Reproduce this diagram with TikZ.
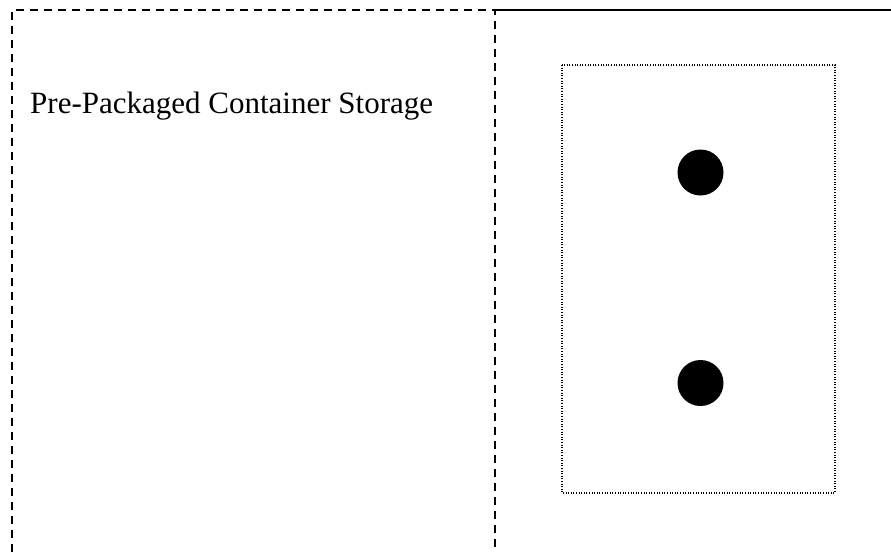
\documentclass[tikz,border=0pt]{standalone}
\usepackage{fontspec}
\setmainfont{Liberation Serif}
\begin{document}
\begin{tikzpicture}[x=1pt,y=-1pt,
  frame/.style={line width=2pt,dash pattern=on 8pt off 6pt},
  solidline/.style={line width=2pt},
  dotbox/.style={line width=1.4pt,dash pattern=on 1pt off 1.6pt},
  blob/.style={circle,fill=black,minimum size=46pt,inner sep=0pt}]
\useasboundingbox (0,0) rectangle (891,552);
\coordinate (tl) at (12,10);
\coordinate (tm) at (495,10);
\coordinate (tr) at (891,10);
\coordinate (bl) at (12,552);
\coordinate (bm) at (495,552);
\draw[frame] (bl) -- (tl) -- (tm) -- (bm);
\draw[solidline] (tm) -- (tr);
\node[anchor=base west,inner sep=0pt,font=\fontsize{31}{36}\selectfont] (label) at (30,113) {Pre-Packaged Container Storage};
\draw[dotbox] (562,65) rectangle (835,493);
\node[blob] (d1) at (700.5,172.5) {};
\node[blob] (d2) at (700.5,383) {};
\end{tikzpicture}
\end{document}
